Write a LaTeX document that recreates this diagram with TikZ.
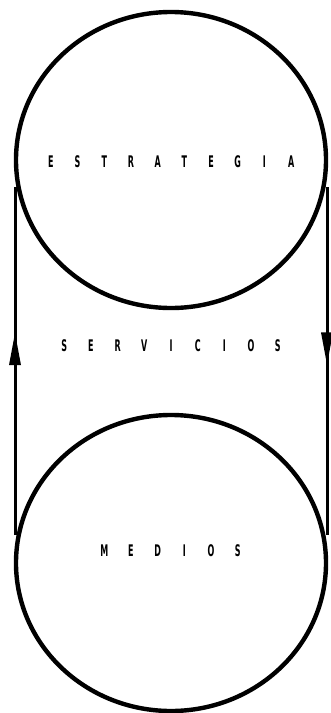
\documentclass[tikz,border=0pt]{standalone}
\usepackage{fontspec}
\setmainfont{DejaVu Sans}
\usetikzlibrary{shapes.geometric,decorations.markings}
\newcommand{\sletter}[1]{\makebox[26.7pt]{\scalebox{0.5}[1]{#1}}}
\def\xspaced#1{\ifx#1\relax\else\sletter{#1}\expandafter\xspaced\fi}
\tikzset{
  ring/.style={draw, line width=4.4pt, ellipse, minimum width=310pt, minimum height=296pt, inner sep=0pt},
  word/.style={font=\fontsize{16}{16}\selectfont\bfseries, inner sep=0pt},
  link/.style={line width=3pt},
  upmark/.style={postaction={decorate}, decoration={markings, mark=at position #1 with {\fill (0pt,0pt) -- (-32pt,6pt) -- (-32pt,-6pt) -- cycle;}}}
}
\begin{document}
\begin{tikzpicture}[x=1pt,y=-1pt]
\useasboundingbox (0,0) rectangle (331,713);
\node[ring] (estr) at (171,160) {};
\node[ring] (medios) at (171,563) {};
\node[word] (testr) at (171,162) {\xspaced ESTRATEGIA\relax};
\node[word] (tserv) at (171,346) {\xspaced SERVICIOS\relax};
\node[word] (tmed) at (171,551) {\xspaced MEDIOS\relax};
\coordinate (lt) at (15,187);
\coordinate (lb) at (15,535);
\coordinate (rt) at (327,187);
\coordinate (rb) at (327,535);
\draw[link, upmark=0.58] (lb) -- (lt);
\draw[link, upmark=0.51] (rt) -- (rb);
\end{tikzpicture}
\end{document}
